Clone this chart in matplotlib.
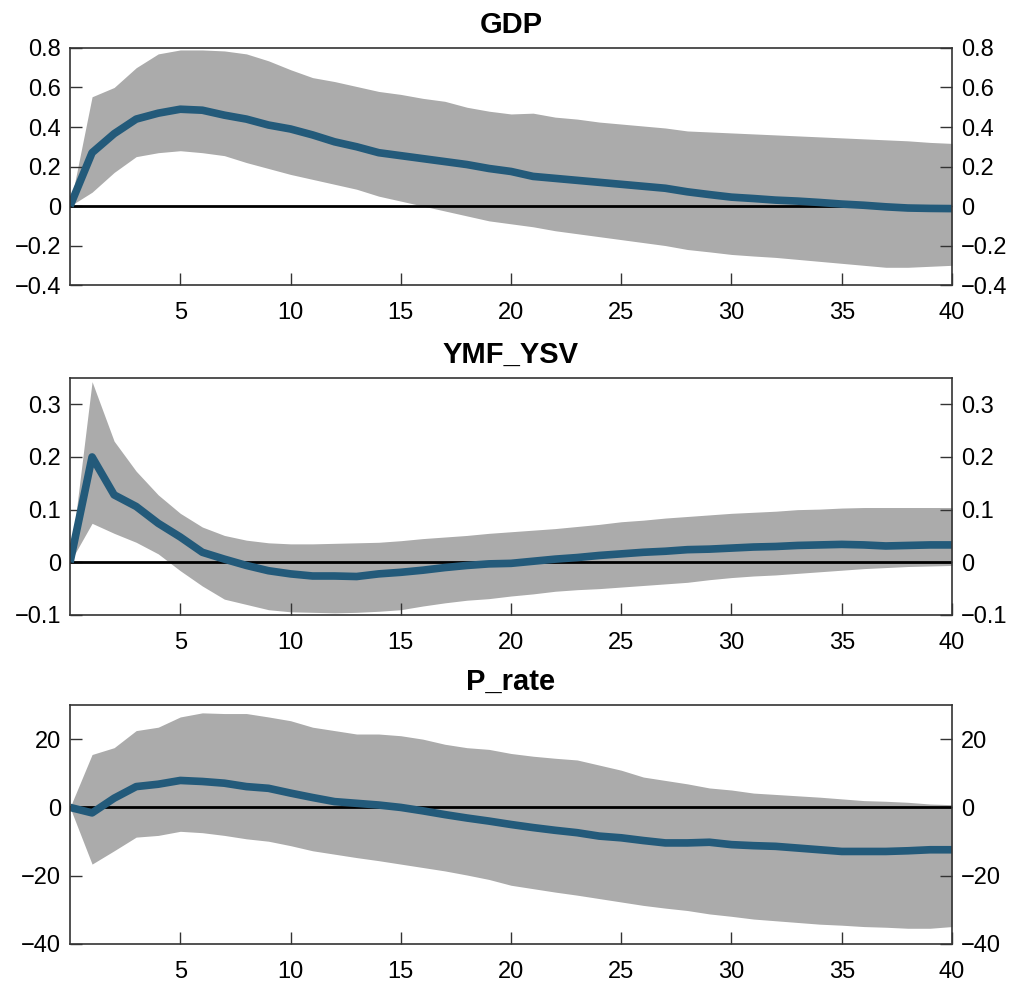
import numpy as np
import matplotlib.pyplot as plt
from matplotlib.ticker import FuncFormatter

plt.rcParams['font.family'] = ['Liberation Sans', 'DejaVu Sans']

# horizon 0..40
h = np.arange(41)

# GDP
gdp_med = [0, 0.27, 0.366, 0.44, 0.47, 0.49, 0.485, 0.46, 0.44, 0.41, 0.39,
           0.36, 0.325, 0.30, 0.27, 0.255, 0.24, 0.225, 0.21, 0.19, 0.175,
           0.15, 0.14, 0.13, 0.12, 0.11, 0.10, 0.09, 0.072, 0.058, 0.045,
           0.038, 0.03, 0.025, 0.018, 0.01, 0.004, -0.004, -0.01, -0.012, -0.013]
gdp_hi = [0, 0.553, 0.60, 0.70, 0.77, 0.79, 0.79, 0.785, 0.77, 0.735, 0.69,
          0.65, 0.63, 0.605, 0.58, 0.565, 0.545, 0.53, 0.50, 0.48, 0.466,
          0.47, 0.45, 0.44, 0.425, 0.415, 0.405, 0.395, 0.38, 0.375, 0.37,
          0.365, 0.36, 0.355, 0.35, 0.345, 0.34, 0.335, 0.33, 0.322, 0.317]
gdp_lo = [0, 0.07, 0.17, 0.25, 0.27, 0.28, 0.27, 0.255, 0.22, 0.19, 0.16,
          0.135, 0.11, 0.085, 0.05, 0.025, 0.0, -0.025, -0.05, -0.075, -0.09,
          -0.105, -0.125, -0.14, -0.155, -0.17, -0.185, -0.2, -0.22, -0.232, -0.245,
          -0.253, -0.26, -0.27, -0.28, -0.29, -0.3, -0.31, -0.31, -0.305, -0.3]

# YMF_YSV
ymf_med = [0, 0.20, 0.128, 0.106, 0.074, 0.048, 0.019, 0.006, -0.006, -0.016, -0.022,
           -0.026, -0.026, -0.027, -0.022, -0.019, -0.015, -0.01, -0.006, -0.003, -0.002,
           0.002, 0.006, 0.009, 0.013, 0.016, 0.019, 0.021, 0.024, 0.025, 0.027,
           0.029, 0.03, 0.032, 0.033, 0.034, 0.033, 0.031, 0.032, 0.033, 0.033]
ymf_hi = [0, 0.343, 0.23, 0.173, 0.128, 0.093, 0.067, 0.051, 0.042, 0.037, 0.035,
          0.035, 0.036, 0.037, 0.038, 0.041, 0.045, 0.048, 0.051, 0.055, 0.058,
          0.061, 0.064, 0.068, 0.072, 0.077, 0.080, 0.084, 0.087, 0.09, 0.093,
          0.095, 0.097, 0.10, 0.101, 0.103, 0.104, 0.104, 0.104, 0.104, 0.104]
ymf_lo = [0, 0.074, 0.055, 0.038, 0.016, -0.016, -0.045, -0.07, -0.08, -0.09, -0.094,
          -0.095, -0.096, -0.095, -0.093, -0.09, -0.083, -0.077, -0.072, -0.069, -0.064,
          -0.06, -0.055, -0.052, -0.05, -0.047, -0.044, -0.041, -0.038, -0.033, -0.029,
          -0.026, -0.024, -0.021, -0.018, -0.015, -0.012, -0.01, -0.008, -0.007, -0.006]

# P_rate
prate_med = [0, -1.6, 2.7, 6.1, 6.8, 7.9, 7.6, 7.1, 6.1, 5.6, 4.2,
             2.9, 1.7, 1.2, 0.7, 0.0, -1.0, -2.1, -3.1, -4.0, -5.0,
             -5.9, -6.7, -7.4, -8.4, -8.9, -9.7, -10.4, -10.4, -10.2, -10.9,
             -11.2, -11.4, -11.9, -12.4, -12.9, -12.9, -12.9, -12.7, -12.4, -12.4]
prate_hi = [0, 15.5, 17.5, 22.5, 23.5, 26.5, 27.7, 27.5, 27.5, 26.5, 25.4,
            23.5, 22.5, 21.5, 21.5, 21.0, 20.0, 18.5, 17.5, 17.0, 15.8,
            15.0, 14.4, 13.9, 12.4, 10.9, 8.9, 7.9, 6.9, 5.7, 5.1,
            4.2, 3.8, 3.4, 3.0, 2.5, 2.0, 1.8, 1.5, 1.0, 0.8]
prate_lo = [0, -16.6, -12.7, -8.7, -8.2, -7.0, -7.4, -8.2, -9.2, -9.9, -11.2,
            -12.7, -13.7, -14.7, -15.6, -16.6, -17.6, -18.6, -19.8, -21.1, -22.8,
            -23.8, -24.8, -25.7, -26.7, -27.7, -28.7, -29.5, -30.2, -31.2, -31.9,
            -32.7, -33.2, -33.7, -34.2, -34.5, -34.9, -35.1, -35.4, -35.4, -34.9]

titles = ['GDP', 'YMF_YSV', 'P_rate']
meds = [gdp_med, ymf_med, prate_med]
his = [gdp_hi, ymf_hi, prate_hi]
los = [gdp_lo, ymf_lo, prate_lo]
ylims = [(-0.4, 0.8), (-0.1, 0.35), (-40, 30)]
yticks = [np.arange(-0.4, 0.81, 0.2), [-0.1, 0, 0.1, 0.2, 0.3], [-40, -20, 0, 20]]

# axes boxes [left, bottom, width, height]
boxes = [[0.0692, 0.710, 0.8715, 0.2412],
         [0.0692, 0.3744, 0.8715, 0.2411],
         [0.0692, 0.0397, 0.8715, 0.2431]]

fig = plt.figure(figsize=(10.12, 9.83), dpi=100)

fmt = FuncFormatter(lambda v, p: ('%g' % round(v, 6)).replace('-', '\u2212'))

for i in range(3):
    ax = fig.add_axes(boxes[i])
    ax.fill_between(h, los[i], his[i], color='#ababab', lw=0)
    ax.axhline(0, color='black', lw=2)
    ax.plot(h, meds[i], color='#235a7a', lw=5.5, solid_capstyle='butt')
    ax.set_xlim(0, 40)
    ax.set_ylim(*ylims[i])
    ax.set_xticks([5, 10, 15, 20, 25, 30, 35, 40])
    ax.set_yticks(yticks[i])
    ax.yaxis.set_major_formatter(fmt)
    ax.tick_params(direction='in', length=8.5, width=1, color='#333333',
                   labelsize=17, right=True, labelright=True, top=False)
    ax.tick_params(axis='x', pad=12)
    ax.tick_params(axis='y', pad=6.5)
    for s in ax.spines.values():
        s.set_color('#333333')
        s.set_linewidth(1.2)
    ax.set_title(titles[i], fontsize=21, fontweight='bold', pad=11)

fig.savefig('out.png', dpi=100)
